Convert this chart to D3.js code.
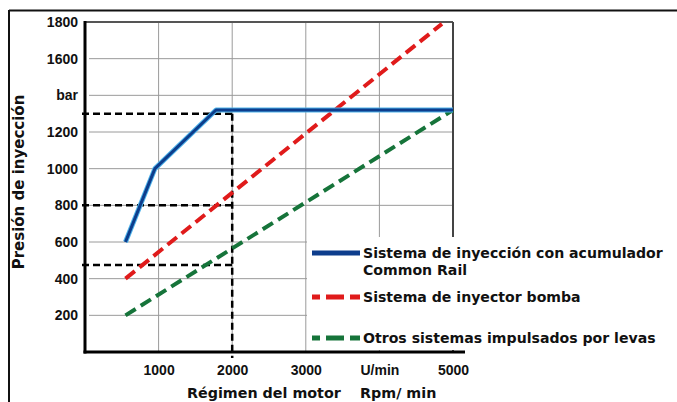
<!DOCTYPE html>
<html>
<head>
<meta charset="utf-8">
<script src="https://cdn.jsdelivr.net/npm/d3@7"></script>
<style>
  html, body { margin: 0; padding: 0; background: #fff; }
  svg { display: block; font-family: "DejaVu Sans", "Liberation Sans", Arial, sans-serif; font-weight: bold; }
</style>
</head>
<body>
<svg id="chart" width="677" height="402"></svg>
<script>
// ---- data ----
const yTicks = [200, 400, 600, 800, 1000, 1200, 1400, 1600, 1800];
const yTickLabels = ["200", "400", "600", "800", "1000", "1200", "bar", "1600", "1800"];
const xTicks = [1000, 2000, 3000, 4000, 5000];
const xTickLabels = ["1000", "2000", "3000", "U/min", "5000"];

const commonRail = [[550, 600], [950, 1000], [1780, 1320], [5000, 1320]];
const inyectorBomba = [[550, 400], [4850, 1790]];
const otrosSistemas = [[550, 200], [5000, 1320]];

const refLevels = [1300, 800, 475];
const refRpm = 2000;

const legendLabels = [
  ["Sistema de inyección con acumulador", "Common Rail"],
  ["Sistema de inyector bomba"],
  ["Otros sistemas impulsados por levas"]
];
const yTitle = "Presión de inyección";
const xTitle1 = "Régimen del motor";
const xTitle2 = "Rpm/ min";

// ---- chart ----
const svg = d3.select("#chart");
const x = d3.scaleLinear().domain([0, 5000]).range([85, 453]);
const y = d3.scaleLinear().domain([0, 1800]).range([352, 22]);
const tickFont = "Liberation Sans, Arial, sans-serif";

// outer frame (top and left edges)
svg.append("line").attr("x1", 9).attr("x2", 677).attr("y1", 10.5).attr("y2", 10.5)
  .attr("stroke", "#111").attr("stroke-width", 2);
svg.append("line").attr("x1", 9).attr("x2", 9).attr("y1", 10).attr("y2", 402)
  .attr("stroke", "#111").attr("stroke-width", 2);

// gridlines
const g = svg.append("g");
g.selectAll(".hg").data(yTicks.filter(d => d < 1800)).enter().append("line")
  .attr("x1", x(0) + 4).attr("x2", x(5000))
  .attr("y1", d => y(d)).attr("y2", d => y(d))
  .attr("stroke", "#9a9a9a").attr("stroke-width", 1);
g.selectAll(".vg").data(xTicks.filter(d => d < 5000)).enter().append("line")
  .attr("x1", d => x(d)).attr("x2", d => x(d))
  .attr("y1", y(1800)).attr("y2", y(0))
  .attr("stroke", "#9a9a9a").attr("stroke-width", 1);

// plot frame top & right
g.append("line").attr("x1", x(0)).attr("x2", x(5000)).attr("y1", y(1800)).attr("y2", y(1800))
  .attr("stroke", "#555").attr("stroke-width", 1.8);
g.append("line").attr("x1", x(5000)).attr("x2", x(5000)).attr("y1", y(1800)).attr("y2", y(0))
  .attr("stroke", "#444").attr("stroke-width", 2);

// legend background (covers the lower right of the grid)
const legendX = 307, legendY = 237;
svg.append("rect").attr("x", legendX).attr("y", legendY).attr("width", 677 - legendX).attr("height", y(0) - legendY - 2)
  .attr("fill", "#fff");

// axes lines
svg.append("line").attr("x1", x(0)).attr("x2", x(0)).attr("y1", y(1800) - 1).attr("y2", y(0) + 1.5)
  .attr("stroke", "#000").attr("stroke-width", 3);
svg.append("line").attr("x1", x(0) - 1.5).attr("x2", 465).attr("y1", y(0)).attr("y2", y(0))
  .attr("stroke", "#000").attr("stroke-width", 3);

// tick labels (via d3 axes, domain/ticks hidden)
const yAxis = d3.axisLeft(y).tickValues(yTicks).tickSize(0).tickPadding(7)
  .tickFormat((d, i) => yTickLabels[i]);
const ya = svg.append("g").attr("transform", `translate(${x(0)},0)`).call(yAxis);
ya.select(".domain").remove();
ya.selectAll("text").attr("font-size", 14).attr("font-weight", "bold").attr("fill", "#111")
  .attr("font-family", tickFont);

const xAxis = d3.axisBottom(x).tickValues(xTicks).tickSize(0).tickPadding(13)
  .tickFormat((d, i) => xTickLabels[i]);
const xa = svg.append("g").attr("transform", `translate(0,${y(0)})`).call(xAxis);
xa.select(".domain").remove();
xa.selectAll("text").attr("font-size", 14).attr("font-weight", "bold").attr("fill", "#111")
  .attr("font-family", tickFont);

// reference dashed lines
refLevels.forEach(v => {
  svg.append("line").attr("x1", x(0) - 3).attr("x2", x(refRpm)).attr("y1", y(v)).attr("y2", y(v))
    .attr("stroke", "#000").attr("stroke-width", 2.5).attr("stroke-dasharray", "7,4");
});
svg.append("line").attr("x1", x(refRpm)).attr("x2", x(refRpm)).attr("y1", y(refLevels[0])).attr("y2", y(0) + 6)
  .attr("stroke", "#000").attr("stroke-width", 2.5).attr("stroke-dasharray", "7,4");

// series
const line = d3.line().x(d => x(d[0])).y(d => y(d[1]));
svg.append("path").datum(otrosSistemas).attr("d", line).attr("fill", "none")
  .attr("stroke", "#16743a").attr("stroke-width", 4).attr("stroke-dasharray", "12,6");
svg.append("path").datum(inyectorBomba).attr("d", line).attr("fill", "none")
  .attr("stroke", "#e01b1b").attr("stroke-width", 4).attr("stroke-dasharray", "12,6");
svg.append("path").datum(commonRail).attr("d", line).attr("fill", "none")
  .attr("stroke", "#4fb3ea").attr("stroke-width", 5).attr("stroke-linejoin", "round");
svg.append("path").datum(commonRail).attr("d", line).attr("fill", "none")
  .attr("stroke", "#0d3d8c").attr("stroke-width", 3).attr("stroke-linejoin", "round");

// legend
const legendRows = [
  { y: 253, color: "#0d3d8c", dash: null, width: 5 },
  { y: 297, color: "#e01b1b", dash: "8,6,18,6,10", width: 5 },
  { y: 338, color: "#16743a", dash: "8,6,18,6,10", width: 5 }
];
legendRows.forEach((r, i) => {
  svg.append("line").attr("x1", 312).attr("x2", 360).attr("y1", r.y).attr("y2", r.y)
    .attr("stroke", r.color).attr("stroke-width", r.width)
    .attr("stroke-dasharray", r.dash);
  legendLabels[i].forEach((t, j) => {
    svg.append("text").attr("x", 363).attr("y", r.y + 5 + j * 17)
      .attr("font-size", 14.1).attr("fill", "#111").text(t);
  });
});

// axis titles
svg.append("text").attr("transform", `translate(24,${182}) rotate(-90)`)
  .attr("text-anchor", "middle").attr("font-size", 15).attr("fill", "#111").text(yTitle);
svg.append("text").attr("x", 187).attr("y", 398).attr("font-size", 14.3).attr("fill", "#111").text(xTitle1);
svg.append("text").attr("x", 360).attr("y", 398).attr("font-size", 14.3).attr("fill", "#111").text(xTitle2);
</script>
</body>
</html>
